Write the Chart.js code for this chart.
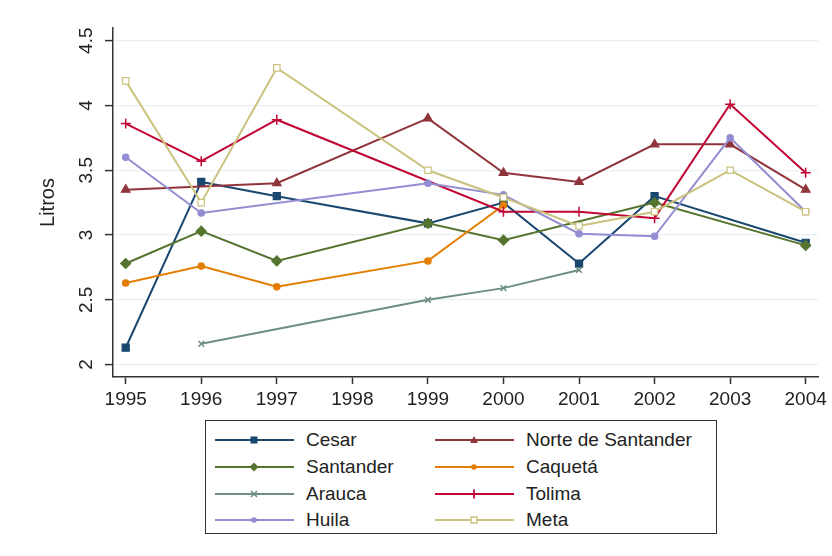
<!DOCTYPE html>
<html>
<head>
<meta charset="utf-8">
<script src="https://cdn.jsdelivr.net/npm/chart.js@4.4.1/dist/chart.umd.min.js"></script>
<style>
  html, body { margin: 0; padding: 0; background: #ffffff; }
  #wrap { position: relative; width: 832px; height: 556px; background: #ffffff; font-family: "Liberation Sans", Arial, sans-serif; }
  #c { position: absolute; left: 0; top: 0; }
  #legend { position: absolute; left: 205px; top: 420px; width: 512px; height: 114px; border: 1.5px solid #333333; box-sizing: border-box; }
  .item { position: absolute; height: 24px; display: flex; align-items: center; font-size: 19px; color: #222222; white-space: nowrap; }
  .item svg { display: block; margin-right: 12px; }
</style>
</head>
<body>
<div id="wrap">
  <canvas id="c" width="832" height="410"></canvas>
  <div id="legend"></div>
</div>
<script>
// ---- data ----
const years = [1995, 1996, 1997, 1998, 1999, 2000, 2001, 2002, 2003, 2004];
const seriesNames = ["Cesar", "Norte de Santander", "Santander", "Caquetá", "Arauca", "Tolima", "Huila", "Meta"];
const cesar     = [2.13, 3.41, 3.30, null, 3.09, 3.25, 2.78, 3.30, null, 2.94];
const norte     = [3.35, null, 3.40, null, 3.90, 3.48, 3.41, 3.70, 3.70, 3.35];
const santander = [2.78, 3.03, 2.80, null, 3.09, 2.96, null, 3.25, null, 2.92];
const caqueta   = [2.63, 2.76, 2.60, null, 2.80, 3.23, null, null, null, null];
const arauca    = [null, 2.16, null, null, 2.50, 2.59, 2.73, null, null, null];
const tolima    = [3.86, 3.57, 3.89, null, null, 3.18, 3.18, 3.13, 4.01, 3.48];
const huila     = [3.60, 3.17, null, null, 3.40, 3.31, 3.01, 2.99, 3.75, 3.18];
const meta      = [4.19, 3.25, 4.29, null, 3.50, 3.29, 3.07, 3.18, 3.50, 3.18];
const yTickValues = [2, 2.5, 3, 3.5, 4, 4.5];
const yTickLabels = ["2", "2.5", "3", "3.5", "4", "4.5"];
const xTickLabels = ["1995", "1996", "1997", "1998", "1999", "2000", "2001", "2002", "2003", "2004"];
const yTitle = "Litros";

// ---- styles ----
const seriesValues = [cesar, norte, santander, caqueta, arauca, tolima, huila, meta];
const colors = ["#1a476f", "#90353b", "#55752f", "#e37e00", "#6e8e84", "#c10534", "#938dd2", "#cac27e"];
const pStyles = ["rect", "triangle", "rectRot", "circle", "crossRot", "cross", "circle", "rect"];
const pRadius = [5, 5, 5, 3.2, 4, 5, 3.2, 4.5];
const pFill = [null, null, null, null, null, null, null, "#ffffff"];

const datasets = seriesValues.map((vals, i) => ({
  label: seriesNames[i],
  data: years.map((yr, k) => ({ x: yr, y: vals[k] })),
  borderColor: colors[i],
  backgroundColor: pFill[i] || colors[i],
  pointBackgroundColor: pFill[i] || colors[i],
  pointBorderColor: colors[i],
  pointStyle: pStyles[i],
  pointRadius: pRadius[i],
  pointBorderWidth: (pStyles[i] === "cross" || pStyles[i] === "crossRot") ? 1.5 : 1.2,
  borderWidth: 2,
  spanGaps: true,
  tension: 0,
  order: 7 - i
}));

const FONT = "'Liberation Sans', Arial, sans-serif";

new Chart(document.getElementById("c"), {
  type: "line",
  data: { datasets },
  options: {
    responsive: false,
    animation: false,
    layout: { padding: { left: 0, right: 14, top: 28, bottom: 0 } },
    plugins: { legend: { display: false }, tooltip: { enabled: false } },
    scales: {
      x: {
        type: "linear",
        min: 1994.832,
        max: 2004.163,
        afterBuildTicks: s => { s.ticks = years.map(v => ({ value: v })); },
        afterFit: s => { s.height = 33; },
        ticks: {
          callback: (v, idx) => xTickLabels[idx],
          font: { family: FONT, size: 19 },
          color: "#222222",
          padding: 4,
          maxRotation: 0,
          autoSkip: false
        },
        grid: { drawOnChartArea: false, tickLength: 7, tickColor: "#333333", tickWidth: 1.5 },
        border: { color: "#333333", width: 1.5 }
      },
      y: {
        type: "linear",
        min: 1.904,
        max: 4.598,
        afterBuildTicks: s => { s.ticks = yTickValues.map(v => ({ value: v })); },
        afterFit: s => { s.width = 113; },
        ticks: {
          callback: (v, idx) => yTickLabels[idx],
          font: { family: FONT, size: 19 },
          color: "#222222",
          minRotation: 90,
          maxRotation: 90,
          crossAlign: "center",
          padding: 5
        },
        title: { display: true, text: yTitle, font: { family: FONT, size: 20 }, color: "#222222", padding: { top: 36, bottom: 0 } },
        grid: { color: "#e9eff2", lineWidth: 1.2, tickLength: 8, tickColor: "#333333", tickWidth: 1.5 },
        border: { color: "#333333", width: 1.5 }
      }
    }
  }
});

// ---- legend (HTML, two columns) ----
const legend = document.getElementById("legend");
const rowTops = [19, 46, 72.5, 98.5];
const colLeft = [9, 229];
function markerSvg(i) {
  const c = colors[i];
  const cx = 39, cy = 8;
  let m = "";
  switch (pStyles[i]) {
    case "rect": m = pFill[i] ? `<rect x="${cx-3}" y="${cy-3}" width="6" height="6" fill="#fff" stroke="${c}" stroke-width="1.5"/>` : `<rect x="${cx-3.5}" y="${cy-3.5}" width="7" height="7" fill="${c}"/>`; break;
    case "triangle": m = `<polygon points="${cx},${cy-4} ${cx+4},${cy+3} ${cx-4},${cy+3}" fill="${c}"/>`; break;
    case "rectRot": m = `<polygon points="${cx},${cy-4.5} ${cx+4.5},${cy} ${cx},${cy+4.5} ${cx-4.5},${cy}" fill="${c}"/>`; break;
    case "circle": m = `<circle cx="${cx}" cy="${cy}" r="2.8" fill="${c}"/>`; break;
    case "crossRot": m = `<path d="M${cx-3} ${cy-3} L${cx+3} ${cy+3} M${cx-3} ${cy+3} L${cx+3} ${cy-3}" stroke="${c}" stroke-width="1.5"/>`; break;
    case "cross": m = `<path d="M${cx} ${cy-4.5} L${cx} ${cy+4.5}" stroke="${c}" stroke-width="1.8"/>`; break;
  }
  return `<svg width="79" height="16" viewBox="0 0 79 16"><line x1="0" y1="${cy}" x2="79" y2="${cy}" stroke="${c}" stroke-width="2"/>${m}</svg>`;
}
seriesNames.forEach((name, i) => {
  const row = Math.floor(i / 2), col = i % 2;
  const d = document.createElement("div");
  d.className = "item";
  d.style.left = colLeft[col] + "px";
  d.style.top = (rowTops[row] - 12) + "px";
  d.innerHTML = markerSvg(i) + `<span>${name}</span>`;
  legend.appendChild(d);
});
</script>
</body>
</html>
